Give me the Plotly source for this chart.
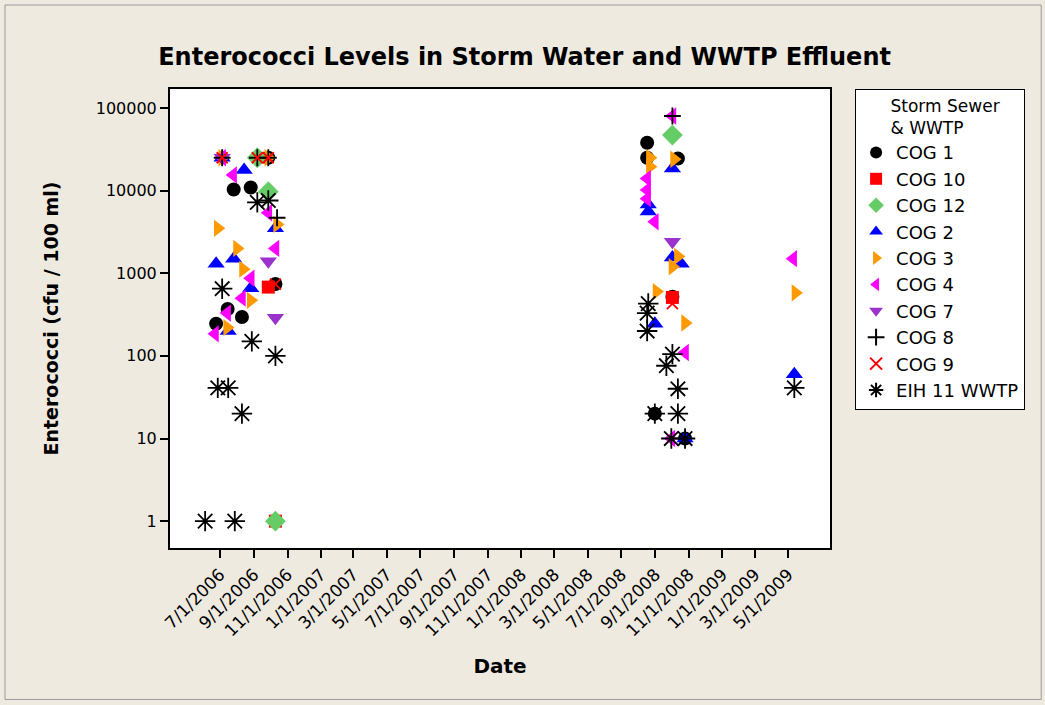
import plotly.graph_objects as go

# Значения (cfu / 100 ml)
cog1_dates = ["2006-06-24", "2006-07-15", "2006-07-26", "2006-08-10", "2006-08-26", "2006-09-27", "2006-10-10",
              "2008-08-17", "2008-08-17", "2008-10-12", "2008-10-02", "2008-08-31", "2008-10-25"]
cog1_vals = [245, 370, 10300, 295, 10900, 25000, 740,
             38000, 25000, 24500, 520, 20, 10]

cog10_dates = ["2006-09-27", "2006-10-10", "2008-10-02"]
cog10_vals = [680, 1, 510]

cog12_dates = ["2006-09-07", "2006-09-27", "2006-10-10", "2008-10-02"]
cog12_vals = [25000, 9700, 1, 47000]

cog2_dates = ["2006-07-05", "2006-06-24", "2006-07-16", "2006-07-26", "2006-08-14", "2006-08-26", "2006-10-10",
              "2008-10-02", "2008-08-19", "2008-08-19", "2008-10-02", "2008-10-18", "2008-08-31", "2008-10-25",
              "2009-05-12"]
cog2_vals = [25000, 1300, 200, 1500, 17800, 660, 3500,
             18500, 6800, 5600, 1550, 1300, 245, 10,
             60]

cog3_dates = ["2006-07-05", "2006-06-27", "2006-07-14", "2006-08-01", "2006-08-12", "2006-08-26", "2006-09-27",
              "2006-10-13", "2008-08-22", "2008-08-22", "2008-10-05", "2008-10-12", "2008-10-02", "2008-09-03",
              "2008-10-25", "2009-05-14"]
cog3_vals = [25000, 3500, 220, 2000, 1120, 470, 25000,
             3900, 25000, 19500, 24000, 1600, 1200, 600,
             250, 580]

cog4_dates = ["2006-07-05", "2006-06-22", "2006-07-14", "2006-07-25", "2006-08-10", "2006-08-26", "2006-09-27",
              "2006-10-10", "2008-10-02", "2008-08-17", "2008-08-17", "2008-08-17", "2008-08-31", "2008-10-25",
              "2008-09-30", "2009-05-10"]
cog4_vals = [25000, 185, 330, 15500, 500, 870, 5400,
             2000, 80000, 14000, 10200, 8000, 4200, 110,
             10, 1500]

cog7_dates = ["2006-07-05", "2006-09-27", "2006-10-10", "2008-10-02"]
cog7_vals = [25000, 1400, 290, 2400]

cog8_dates = ["2006-07-05", "2006-09-07", "2006-09-27", "2006-10-13", "2008-10-02"]
cog8_vals = [25000, 25000, 25000, 4700, 80000]

cog9_dates = ["2006-07-05", "2006-09-07", "2006-09-27", "2006-10-10", "2008-10-02"]
cog9_vals = [25000, 25000, 25000, 740, 430]

eih11_dates = ["2006-06-04", "2006-06-27", "2006-07-05", "2006-07-16", "2006-07-28", "2006-08-10", "2006-08-28",
               "2006-09-07", "2006-09-27", "2006-10-10", "2008-08-19", "2008-08-17", "2008-08-17", "2008-10-02",
               "2008-09-21", "2008-10-12", "2008-08-31", "2008-10-12", "2008-09-30", "2008-10-25", "2009-05-12"]
eih11_vals = [1, 41, 650, 41, 1, 20, 150,
              7200, 7600, 100, 430, 330, 200, 105,
              76, 40, 20, 20, 10, 10, 41]

x_tick_dates = ["2006-07-01", "2006-09-01", "2006-11-01", "2007-01-01", "2007-03-01", "2007-05-01",
                "2007-07-01", "2007-09-01", "2007-11-01", "2008-01-01", "2008-03-01", "2008-05-01",
                "2008-07-01", "2008-09-01", "2008-11-01", "2009-01-01", "2009-03-01", "2009-05-01"]
x_tick_labels = ["7/1/2006", "9/1/2006", "11/1/2006", "1/1/2007", "3/1/2007", "5/1/2007",
                 "7/1/2007", "9/1/2007", "11/1/2007", "1/1/2008", "3/1/2008", "5/1/2008",
                 "7/1/2008", "9/1/2008", "11/1/2008", "1/1/2009", "3/1/2009", "5/1/2009"]
y_tick_vals = [1, 10, 100, 1000, 10000, 100000]
y_tick_labels = ["1", "10", "100", "1000", "10000", "100000"]

FONT = "DejaVu Sans"
BG = "#EEEAE0"

series = [
    ("COG 1", cog1_dates, cog1_vals, "circle", "#000000", 14),
    ("COG 10", cog10_dates, cog10_vals, "square", "#FF0000", 13),
    ("COG 12", cog12_dates, cog12_vals, "diamond", "#66CC66", 16),
    ("COG 2", cog2_dates, cog2_vals, "triangle-up", "#0000FF", 15),
    ("COG 3", cog3_dates, cog3_vals, "triangle-right", "#FF9900", 15),
    ("COG 4", cog4_dates, cog4_vals, "triangle-left", "#FF00FF", 15),
    ("COG 7", cog7_dates, cog7_vals, "triangle-down", "#9933CC", 15),
    ("COG 8", cog8_dates, cog8_vals, "cross-thin-open", "#000000", 12),
    ("COG 9", cog9_dates, cog9_vals, "x-thin-open", "#FF0000", 11),
    ("EIH 11 WWTP", eih11_dates, eih11_vals, "asterisk-open", "#000000", 17),
]

fig = go.Figure()

for name, xs, ys, symbol, color, size in series:
    thin = symbol.endswith("-open")
    fig.add_trace(go.Scatter(
        x=xs, y=ys, mode="markers", name=name,
        marker=dict(symbol=symbol, size=size, color=color,
                    line=dict(width=1.8 if thin else 0, color=color)),
    ))

pad = "\u00a0" * 6
fig.update_layout(
    width=1045, height=705,
    paper_bgcolor=BG, plot_bgcolor="white",
    margin=dict(l=170, r=215, t=89, b=157),
    font=dict(family=FONT, size=16, color="black"),
    title=dict(text="<b>Enterococci Levels in Storm Water and WWTP Effluent</b>",
               x=0.502, xanchor="center", y=0.92, yanchor="middle",
               font=dict(family=FONT, size=24, color="black")),
    legend=dict(
        title=dict(text=f"{pad}Storm Sewer<br>{pad}& WWTP", font=dict(size=17)),
        x=1.038, xanchor="left", y=1.0, yanchor="top",
        bgcolor="white", bordercolor="black", borderwidth=1,
        font=dict(size=18), itemsizing="constant",
    ),
    showlegend=True,
)

fig.update_xaxes(
    type="date", range=["2006-04-01", "2009-07-16"],
    tickvals=x_tick_dates, ticktext=x_tick_labels, tickangle=-45,
    ticks="outside", ticklen=8, tickwidth=1.5, tickcolor="black",
    showline=True, linecolor="black", linewidth=2, mirror=True,
    showgrid=False, zeroline=False,
    tickfont=dict(size=17),
    title=dict(text="<b>Date</b>", font=dict(size=20), standoff=20),
)

fig.update_yaxes(
    type="log", range=[-0.325, 5.23],
    tickvals=y_tick_vals, ticktext=y_tick_labels,
    ticks="outside", ticklen=8, tickwidth=1.5, tickcolor="black",
    showline=True, linecolor="black", linewidth=2, mirror=True,
    showgrid=False, zeroline=False,
    tickfont=dict(size=16),
    title=dict(text="<b>Enterococci (cfu / 100 ml)</b>", font=dict(size=19), standoff=32),
)

# тонкая рамка вокруг всего рисунка
fig.add_shape(type="rect", xref="paper", yref="paper",
              x0=-0.25, x1=1.32, y0=-0.33, y1=1.183,
              line=dict(color="#9A9A9A", width=1), layer="below")

fig.write_html(
    "out.html",
    config={"displayModeBar": False},
    post_script=f"document.body.style.margin='0'; document.body.style.background='{BG}';",
)
